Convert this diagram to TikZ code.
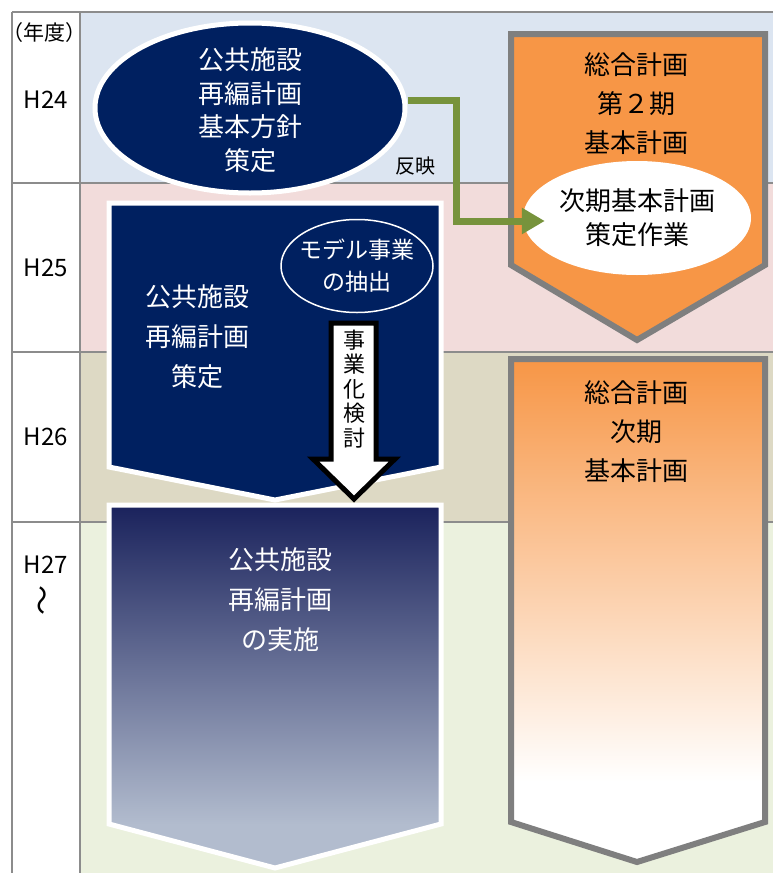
\documentclass[tikz,border=0pt]{standalone}
\usepackage{fontspec}
\setmainfont{Noto Sans CJK JP}
\usetikzlibrary{shapes.geometric,arrows.meta}
\definecolor{rowa}{RGB}{220,229,241}
\definecolor{rowb}{RGB}{242,220,219}
\definecolor{rowc}{RGB}{221,217,196}
\definecolor{rowd}{RGB}{235,241,222}
\definecolor{navy}{RGB}{0,32,96}
\definecolor{navytop}{RGB}{26,34,92}
\definecolor{navybot}{RGB}{178,188,206}
\definecolor{orng}{RGB}{247,150,70}
\definecolor{grn}{RGB}{119,147,60}
\definecolor{gridgray}{RGB}{140,140,140}
\definecolor{bordergray}{RGB}{127,127,127}
\pgfdeclareverticalshading{orgfade}{100bp}{color(0bp)=(white); color(33bp)=(white); color(75bp)=(orng); color(100bp)=(orng)}
\pgfdeclareverticalshading{navyfade}{100bp}{color(0bp)=(navybot); color(31bp)=(navybot); color(75bp)=(navytop); color(100bp)=(navytop)}
\begin{document}
\begin{tikzpicture}[x=1pt,y=-1pt,
  gridline/.style={draw=gridgray,line width=1.5pt},
  yearlbl/.style={font=\fontsize{24}{28}\selectfont,text=black},
  bigtxt/.style={align=center,font=\fontsize{26}{40}\selectfont},
  navyshape/.style={fill=navy,draw=white,line width=5pt,line join=miter},
  grayshape/.style={draw=bordergray,line width=6pt,line join=miter},
  ell/.style={ellipse,inner sep=0pt}]
\useasboundingbox (0,0) rectangle (773,873);
\fill[white] (0,0) rectangle (773,873);
% row backgrounds
\fill[rowa] (80,12) rectangle (773,183);
\fill[rowb] (80,183) rectangle (773,352);
\fill[rowc] (80,352) rectangle (773,522);
\fill[rowd] (80,522) rectangle (773,873);
% grid
\draw[gridline] (12,12) -- (773,12);
\draw[gridline] (12,183) -- (773,183);
\draw[gridline] (12,352) -- (773,352);
\draw[gridline] (12,522) -- (773,522);
\draw[gridline] (12,12) -- (12,873);
\draw[gridline] (80,12) -- (80,873);
% year labels
\node[yearlbl,font=\fontsize{21}{24}\selectfont] (nendo) at (44,33) {（年度）};
\node[yearlbl] (h24) at (46,100) {H24};
\node[yearlbl] (h25) at (46,268) {H25};
\node[yearlbl] (h26) at (46,437) {H26};
\node[yearlbl] (h27) at (46,565) {H27};
\node[yearlbl,rotate=90,font=\fontsize{30}{32}\selectfont] (wave) at (46,600) {〜};
% right column: top orange pentagon
\filldraw[grayshape,fill=orng] (511,34) -- (765,34) -- (765,265) -- (637,340) -- (511,265) -- cycle;
\node[bigtxt,font=\fontsize{26}{39}\selectfont] (sogo1) at (636,104) {総合計画\\第２期\\基本計画};
% right column: bottom gradient pentagon
\path[shading=orgfade] (511,359) -- (765,359) -- (765,822) -- (637,862) -- (511,822) -- cycle;
\draw[grayshape] (511,359) -- (765,359) -- (765,822) -- (637,862) -- (511,822) -- cycle;
\node[bigtxt,font=\fontsize{26}{39}\selectfont] (sogo2) at (636,432) {総合計画\\次期\\基本計画};
% white ellipse
\node[ell,fill=white,minimum width=228pt,minimum height=114pt] (tsugi) at (637,218) {};
\node[bigtxt,font=\fontsize{26}{34}\selectfont] (tsugitxt) at (tsugi.center) {次期基本計画\\策定作業};
% left: H25 navy pentagon
\filldraw[navyshape] (109,203) -- (441,203) -- (441,467) -- (275,500) -- (109,467) -- cycle;
\node[bigtxt,text=white] (sakutei) at (197,337) {公共施設\\再編計画\\策定};
% left: H27 gradient pentagon
\path[shading=navyfade] (109,505) -- (441,505) -- (441,824) -- (275,868) -- (109,824) -- cycle;
\draw[white,line width=5pt,line join=miter] (109,505) -- (441,505) -- (441,824) -- (275,868) -- (109,824) -- cycle;
\node[bigtxt,text=white] (jisshi) at (280,600) {公共施設\\再編計画\\の実施};
% top ellipse
\node[ell,fill=navy,draw=white,line width=5pt,minimum width=310pt,minimum height=170pt] (kihon) at (250,108) {};
\node[bigtxt,text=white,font=\fontsize{26}{33.5}\selectfont] (kihontxt) at (250,110) {公共施設\\再編計画\\基本方針\\策定};
% model ellipse
\node[ell,fill=navy,draw=white,line width=1.5pt,minimum width=152pt,minimum height=93pt] (model) at (357,266) {};
\node[bigtxt,text=white,font=\fontsize{23}{32}\selectfont] (modeltxt) at (model.center) {モデル事業\\の抽出};
% hollow arrow
\filldraw[fill=white,draw=black,line width=5pt,line join=miter] (331,323) -- (376,323) -- (376,459) -- (395,459) -- (354,499) -- (313,459) -- (331,459) -- cycle;
\node[align=center,font=\fontsize{22}{24.5}\selectfont] (jigyo) at (354,389) {事\\業\\化\\検\\討};
% green reflect arrow
\coordinate (tip) at ([xshift=22pt,yshift=-3pt]tsugi.west);
\coordinate (bend) at (456,0);
\draw[grn,line width=7pt,line join=miter,-{Triangle[length=23pt,width=25pt]}]
  ([yshift=8pt]kihon.east) -| (bend |- tip) -- (tip);
\node[font=\fontsize{20}{24}\selectfont] (hanei) at (415,166) {反映};
\end{tikzpicture}
\end{document}
